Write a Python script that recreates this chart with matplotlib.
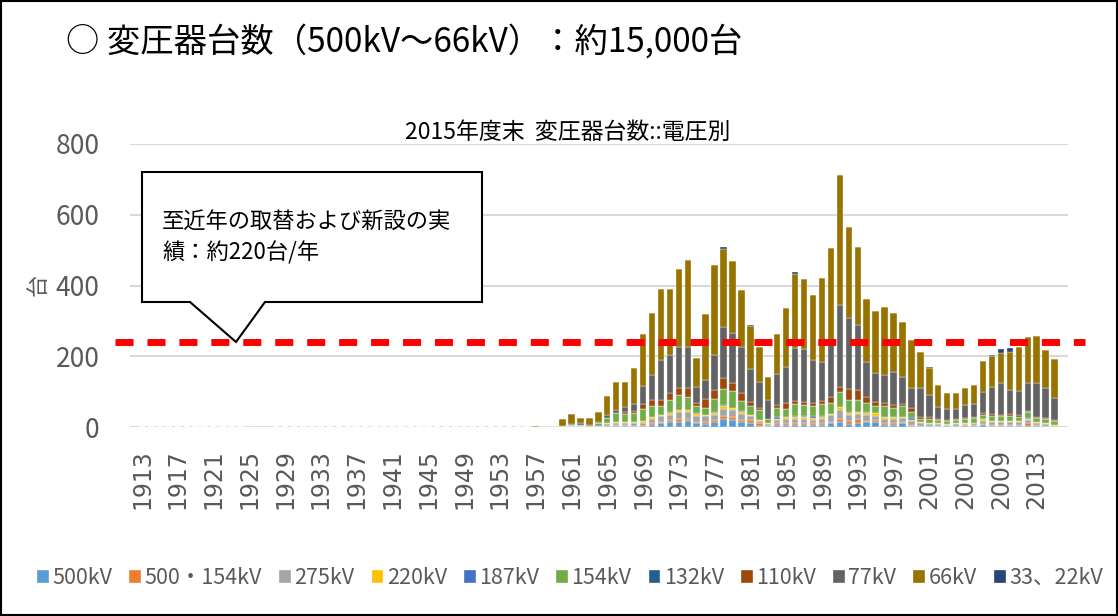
import matplotlib
matplotlib.use("Agg")
import matplotlib.pyplot as plt
from matplotlib.patches import Polygon, Rectangle

# 年度 1913〜2015, 下の各系列は 1957〜2015 の台数
YEARS = list(range(1913, 2016))
START = 1957

LABELS = ["500kV", "500・154kV", "275kV", "220kV", "187kV", "154kV",
          "132kV", "110kV", "77kV", "66kV", "33、22kV"]

V500 = [0, 0, 0, 0, 0, 0, 0, 0,
        2, 3, 2, 2, 0, 6, 10, 14, 15, 16,
        10, 8, 13, 22, 20, 13, 12, 4, 2, 6,
        6, 6, 6, 7, 6, 10, 14, 8, 10, 13,
        15, 6, 7, 10, 4, 4, 3, 3, 2, 3,
        4, 3, 5, 4, 4, 4, 3, 4, 3, 2,
        1]
V500_154 = [0, 0, 0, 0, 0, 0, 0, 0,
            2, 3, 3, 2, 2, 4, 5, 5, 7, 8,
            5, 6, 8, 10, 9, 8, 8, 8, 2, 4,
            4, 5, 5, 4, 6, 5, 10, 10, 12, 5,
            6, 4, 5, 5, 2, 0, 1, 1, 1, 1,
            1, 2, 3, 3, 2, 3, 3, 6, 3, 2,
            1]
V275 = [0, 1, 1, 1, 2, 2, 1, 3,
        4, 6, 5, 8, 10, 14, 15, 15, 20, 18,
        15, 16, 14, 20, 18, 16, 10, 6, 4, 10,
        12, 12, 13, 10, 12, 18, 25, 15, 15, 15,
        10, 12, 11, 10, 12, 6, 4, 4, 4, 4,
        3, 5, 10, 8, 8, 8, 8, 10, 6, 5,
        2]
V220 = [0, 0, 0, 0, 0, 0, 0, 0,
        2, 3, 3, 3, 4, 5, 4, 5, 6, 6,
        6, 4, 5, 8, 6, 4, 4, 2, 2, 3,
        5, 5, 5, 4, 5, 4, 8, 6, 6, 6,
        8, 5, 4, 4, 3, 3, 2, 2, 1, 2,
        2, 2, 4, 3, 3, 3, 3, 4, 3, 3,
        2]
V187 = [0, 0, 0, 0, 0, 0, 0, 0,
        0, 0, 0, 0, 2, 0, 0, 2, 0, 0,
        3, 0, 3, 2, 0, 5, 0, 0, 0, 4,
        1, 2, 1, 6, 1, 0, 0, 4, 0, 4,
        0, 2, 2, 0, 4, 0, 0, 0, 0, 0,
        0, 0, 0, 0, 1, 0, 0, 1, 0, 0,
        0]
V154 = [1, 2, 1, 3, 5, 5, 3, 7,
        16, 24, 24, 24, 32, 30, 26, 34, 42, 38,
        20, 19, 35, 45, 50, 27, 24, 28, 14, 27,
        22, 34, 32, 28, 34, 32, 41, 33, 33, 24,
        19, 29, 24, 29, 18, 10, 13, 10, 10, 10,
        12, 14, 12, 14, 12, 14, 12, 16, 11, 11,
        11]
V132 = [0, 0, 0, 0, 0, 0, 0, 0,
        0, 0, 0, 0, 0, 0, 0, 1, 0, 0,
        0, 0, 0, 0, 0, 0, 0, 0, 0, 1,
        0, 0, 0, 0, 0, 0, 0, 0, 0, 0,
        0, 0, 0, 0, 0, 0, 0, 0, 0, 0,
        0, 0, 0, 0, 0, 0, 0, 0, 0, 0,
        0]
V110 = [0, 0, 0, 0, 0, 0, 0, 0,
        0, 0, 4, 6, 14, 17, 16, 19, 19, 23,
        10, 25, 27, 31, 22, 22, 12, 5, 0, 7,
        17, 10, 10, 10, 10, 17, 16, 31, 29, 19,
        14, 11, 9, 6, 10, 6, 6, 2, 2, 2,
        3, 3, 5, 5, 4, 5, 5, 5, 3, 2,
        3]
V77 = [0, 0, 0, 0, 1, 3, 2, 5,
       8, 9, 15, 20, 52, 70, 114, 108, 118, 118,
       45, 55, 99, 146, 140, 132, 94, 75, 52, 87,
       104, 149, 149, 121, 111, 157, 231, 202, 183, 99,
       80, 78, 94, 78, 58, 80, 61, 35, 30, 28,
       36, 35, 59, 77, 91, 68, 69, 79, 96, 86,
       63]
V66 = [1, 1, 2, 20, 28, 16, 20, 28,
       55, 80, 72, 101, 147, 175, 199, 186, 221, 245,
       80, 187, 254, 218, 205, 160, 122, 98, 64, 115,
       166, 209, 197, 182, 236, 262, 368, 257, 221, 176,
       176, 192, 167, 154, 135, 103, 76, 61, 45, 45,
       49, 56, 89, 86, 85, 107, 124, 129, 132, 107,
       110]
V33_22 = [0, 0, 0, 0, 0, 0, 0, 0,
          0, 0, 0, 0, 0, 0, 0, 0, 0, 0,
          0, 0, 0, 6, 0, 0, 3, 0, 0, 0,
          0, 6, 0, 0, 0, 0, 0, 0, 0, 0,
          0, 0, 0, 0, 0, 0, 3, 0, 0, 0,
          0, 0, 0, 4, 10, 10, 0, 0, 0, 0,
          0]
# 戦前のわずかな 154kV
EARLY_154 = {1925: 2, 1926: 3, 1927: 2, 1953: 1, 1954: 1}

SERIES = [V500, V500_154, V275, V220, V187, V154, V132, V110, V77, V66, V33_22]
COLORS = ["#5B9BD5", "#ED7D31", "#A5A5A5", "#FFC000", "#4472C4", "#70AD47",
          "#255E91", "#9E480E", "#636363", "#997300", "#264478"]

AVG_LINE = 240
TITLE = "○ 変圧器台数（500kV～66kV）：約15,000台"
SUBTITLE = "2015年度末  変圧器台数::電圧別"
NOTE = "至近年の取替および新設の実\n績：約220台/年"

W, H = 1118, 616
CJK = ["Noto Sans CJK JP", "DejaVu Sans"]
GREY = "#595959"


def px(x, y):
    return (x / W, 1 - y / H)


fig = plt.figure(figsize=(W / 100, H / 100), dpi=100)
ax = fig.add_axes([130 / W, 1 - 427 / H, 938 / W, 283 / H])

pad = [0] * (START - YEARS[0])
xs = list(range(len(YEARS)))
bottom = [0] * len(YEARS)
for lab, vals, col in zip(LABELS, SERIES, COLORS):
    full = pad + list(vals)
    if lab == "154kV":
        for yr, v in EARLY_154.items():
            full[yr - YEARS[0]] += v
    ax.bar(xs, full, bottom=bottom, width=0.72, color=col, label=lab,
           edgecolor="white", linewidth=0.25)
    bottom = [b + v for b, v in zip(bottom, full)]

ax.axhline(AVG_LINE, xmin=-0.016, xmax=1.018, clip_on=False, color="#FF0000",
           lw=5, dashes=(2.6, 2.0), zorder=5)

ax.set_xlim(-1.34, 103.5)
ax.set_ylim(0, 800)
ax.set_yticks([0, 200, 400, 600, 800])
ax.set_xticks(xs[::4])
ax.set_xticklabels([str(y) for y in YEARS[::4]], rotation=90)
ax.tick_params(axis="x", length=0, pad=16, labelsize=17, labelcolor=GREY)
ax.tick_params(axis="y", length=0, pad=22, labelsize=19, labelcolor=GREY)
for t in ax.get_yticklabels():
    t.set_family(CJK)
for s in ax.spines.values():
    s.set_visible(False)
ax.yaxis.grid(True, color="#D9D9D9", lw=1.5)
ax.set_axisbelow(True)

fig.text(*px(38, 285), "台", rotation=90, ha="center", va="center",
         fontsize=16, color=GREY, family=CJK)
fig.text(*px(66, 42), TITLE, ha="left", va="center", fontsize=24,
         family=CJK)
fig.text(*px(568, 132), SUBTITLE, ha="center", va="center", fontsize=16.5,
         family=CJK)

# 吹き出し
callout = [px(142, 172), px(482, 172), px(482, 302), px(265, 302),
           px(236, 342), px(190, 302), px(142, 302)]
fig.patches.append(Polygon(callout, closed=True, transform=fig.transFigure,
                           facecolor="white", edgecolor="black", lw=1.5,
                           zorder=6))
fig.text(*px(162, 238), NOTE, ha="left", va="center", fontsize=16,
         family=CJK, linespacing=1.4, zorder=7)

leg = fig.legend(loc="center", bbox_to_anchor=px(570, 578), ncol=11,
                 frameon=False, handlelength=0.55, handleheight=0.55,
                 handletextpad=0.15, columnspacing=0.8, labelcolor=GREY,
                 prop={"family": CJK, "size": 15.5})

fig.patches.append(Rectangle((0.001, 0.001), 0.998, 0.998,
                             transform=fig.transFigure, fill=False,
                             edgecolor="black", lw=1.5))

fig.savefig("out.png", dpi=100)
